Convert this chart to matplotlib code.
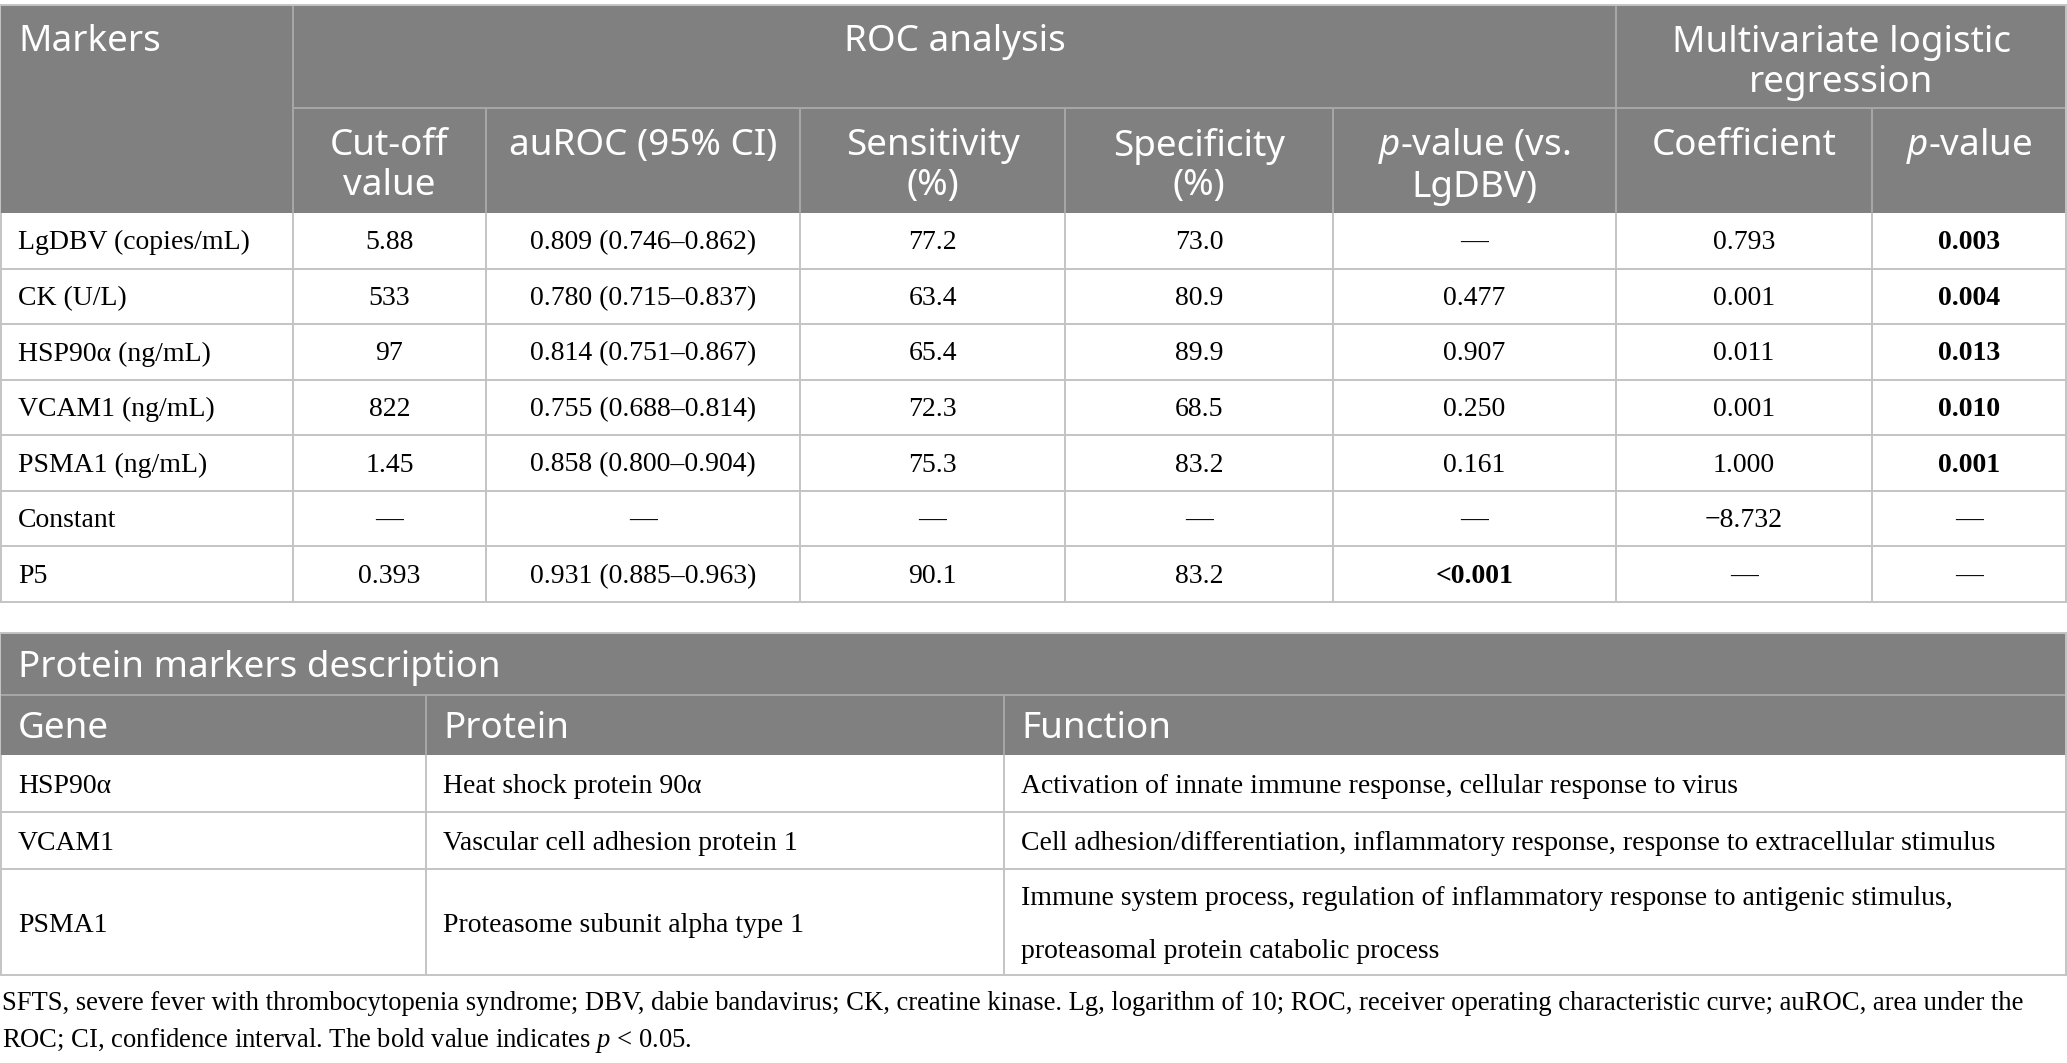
import matplotlib
matplotlib.use("Agg")
import matplotlib.pyplot as plt
from matplotlib.patches import Rectangle

plt.rcParams['mathtext.fontset'] = 'custom'
plt.rcParams['mathtext.it'] = 'Noto Sans:italic'
plt.rcParams['mathtext.sf'] = 'Liberation Serif:italic'
plt.rcParams['mathtext.rm'] = 'Liberation Serif'

# ---- datos de la tabla 1 ----
marcadores = ["LgDBV (copies/mL)", "CK (U/L)", "HSP90α (ng/mL)", "VCAM1 (ng/mL)",
              "PSMA1 (ng/mL)", "Constant", "P5"]
corte = ["5.88", "533", "97", "822", "1.45", "—", "0.393"]
auroc = ["0.809 (0.746–0.862)", "0.780 (0.715–0.837)", "0.814 (0.751–0.867)",
         "0.755 (0.688–0.814)", "0.858 (0.800–0.904)", "—", "0.931 (0.885–0.963)"]
sensibilidad = ["77.2", "63.4", "65.4", "72.3", "75.3", "—", "90.1"]
especificidad = ["73.0", "80.9", "89.9", "68.5", "83.2", "—", "83.2"]
p_vs_lgdbv = ["—", "0.477", "0.907", "0.250", "0.161", "—", "<0.001"]
coeficiente = ["0.793", "0.001", "0.011", "0.001", "1.000", "−8.732", "—"]
p_valor = ["0.003", "0.004", "0.013", "0.010", "0.001", "—", "—"]
negrita_p_vs = [False, False, False, False, False, False, True]
negrita_p = [True, True, True, True, True, False, False]

sub_encabezados = ["Cut-off\nvalue", "auROC (95% CI)", "Sensitivity\n(%)", "Specificity\n(%)",
                   "$\\mathit{p}$-value (vs.\nLgDBV)", "Coefficient", "$\\mathit{p}$-value"]

# ---- datos de la tabla 2 ----
genes = ["HSP90α", "VCAM1", "PSMA1"]
proteinas = ["Heat shock protein 90α", "Vascular cell adhesion protein 1",
             "Proteasome subunit alpha type 1"]
funciones = ["Activation of innate immune response, cellular response to virus",
             "Cell adhesion/differentiation, inflammatory response, response to extracellular stimulus",
             "Immune system process, regulation of inflammatory response to antigenic stimulus,\nproteasomal protein catabolic process"]

nota = ("SFTS, severe fever with thrombocytopenia syndrome; DBV, dabie bandavirus; CK, creatine kinase. "
        "Lg, logarithm of 10; ROC, receiver operating characteristic curve; auROC, area under the\n"
        "ROC; CI, confidence interval. The bold value indicates $\\mathsf{p}$ < 0.05.")

W, H = 2067, 1063
GRIS = "#808080"
LINEA = "#c4c4c4"
SANS = "Noto Sans"
SERIF = "Liberation Serif"
fs_head = 26.5
fs_body = 20
fs_nota = 19.2

fig = plt.figure(figsize=(W / 100, H / 100), dpi=100)
ax = fig.add_axes([0, 0, 1, 1])
ax.set_xlim(0, W)
ax.set_ylim(H, 0)
ax.axis('off')


def linea(x0, y0, x1, y1, color=LINEA):
    ax.plot([x0, x1], [y0, y1], color=color, lw=1.4, solid_capstyle='butt')


# ---------------- tabla 1 ----------------
cols = [1, 293, 486, 800, 1065, 1333, 1616, 1872, W - 1]
top, h1, h2 = 5, 108, 213
alto = (602 - h2) / len(marcadores)

ax.add_patch(Rectangle((0, top), W, h2 - top, color=GRIS, lw=0))
ax.text(18, 42, "Markers", color="white", fontsize=fs_head, family=SANS, va="center")
ax.text((cols[1] + cols[6]) / 2, 42, "ROC analysis", color="white", fontsize=fs_head,
        family=SANS, ha="center", va="center")
ax.text((cols[6] + cols[8]) / 2, 63, "Multivariate logistic\nregression", color="white",
        fontsize=fs_head, family=SANS, ha="center", va="center", linespacing=1.14)
for i, txt in enumerate(sub_encabezados):
    cx = (cols[i + 1] + cols[i + 2]) / 2
    cy = 166 if "\n" in txt else 146
    ax.text(cx, cy, txt, color="white", fontsize=fs_head, family=SANS,
            ha="center", va="center", linespacing=1.14)

# lineas del encabezado
linea(cols[1], h1, W, h1, "#a8a8a8")
linea(cols[1], top, cols[1], h2, "#a8a8a8")
linea(cols[6], top, cols[6], h2, "#a8a8a8")
for c in [cols[2], cols[3], cols[4], cols[5], cols[7]]:
    linea(c, h1, c, h2, "#a8a8a8")
linea(0, top, W, top)
linea(0, top, 0, h2)
linea(W - 1, top, W - 1, h2)

columnas = [corte, auroc, sensibilidad, especificidad, p_vs_lgdbv, coeficiente, p_valor]
for r, nombre in enumerate(marcadores):
    y0 = h2 + r * alto
    cy = y0 + alto / 2 + 2
    ax.text(18, cy, nombre, fontsize=fs_body, family=SERIF, va="center")
    for j, col in enumerate(columnas):
        peso = "normal"
        if j == 4 and negrita_p_vs[r]:
            peso = "bold"
        if j == 6 and negrita_p[r]:
            peso = "bold"
        ax.text((cols[j + 1] + cols[j + 2]) / 2, cy, col[r], fontsize=fs_body,
                family=SERIF, ha="center", va="center", weight=peso)
    linea(0, y0 + alto, W, y0 + alto)
for c in cols:
    linea(c, h2, c, 602)

# ---------------- tabla 2 ----------------
t2, b_tit, b_head = 633, 695, 755
filas2 = [755, 812, 869, 975]
cols2 = [1, 426, 1004, W - 1]

ax.add_patch(Rectangle((0, t2), W, b_head - t2, color=GRIS, lw=0))
ax.text(18, (t2 + b_tit) / 2 + 4, "Protein markers description", color="white",
        fontsize=fs_head, family=SANS, va="center")
for i, txt in enumerate(["Gene", "Protein", "Function"]):
    ax.text(cols2[i] + 17, (b_tit + b_head) / 2 + 4, txt, color="white",
            fontsize=fs_head, family=SANS, va="center")
linea(0, t2, W, t2)
linea(0, b_tit, W, b_tit, "#a8a8a8")
linea(0, t2, 0, b_head)
linea(W - 1, t2, W - 1, b_head)
linea(cols2[1], b_tit, cols2[1], b_head, "#a8a8a8")
linea(cols2[2], b_tit, cols2[2], b_head, "#a8a8a8")

for r in range(len(genes)):
    cy = (filas2[r] + filas2[r + 1]) / 2 + 3
    for j, txt in enumerate([genes[r], proteinas[r], funciones[r]]):
        ax.text(cols2[j] + 17, cy, txt, fontsize=fs_body, family=SERIF,
                va="center", linespacing=2.45)
    linea(0, filas2[r + 1], W, filas2[r + 1])
for c in cols2:
    linea(c, b_head, c, filas2[-1])

# nota al pie
ax.text(2, 1023, nota, fontsize=fs_nota, family=SERIF, va="center", linespacing=1.5)

fig.savefig("out.png", dpi=100)
